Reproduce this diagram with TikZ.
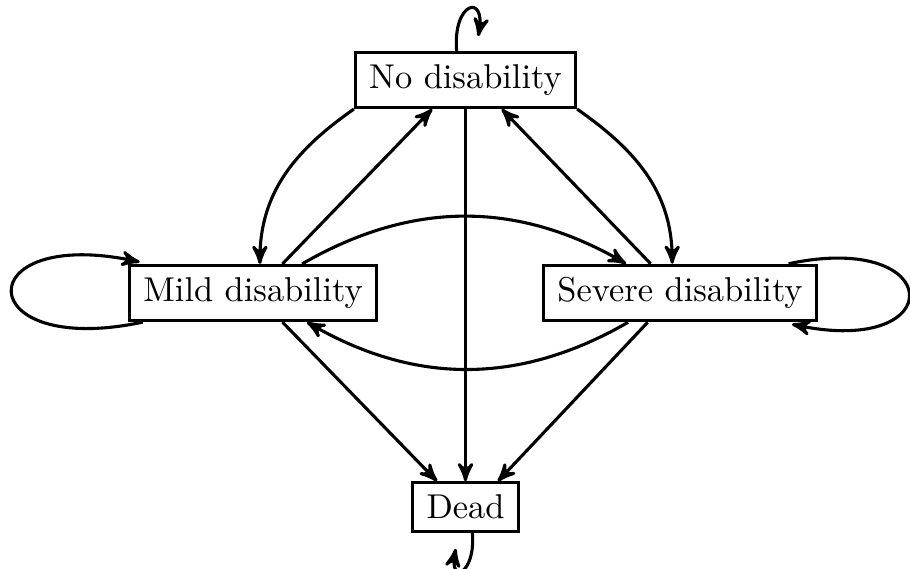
\documentclass[tikz,border=0pt]{standalone}
\usepackage{tikz}
\usetikzlibrary{arrows}

\begin{document}
\begin{tikzpicture}[>=stealth', line width=0.9pt,
        stbox/.style={draw, inner xsep=4pt, inner ysep=3.5pt}]
            \useasboundingbox (0,0) rectangle (9.286,5.796);

            \node[stbox] (no) at (4.75,4.98) {No disability};
            \node[stbox] (mild) at (2.582,2.806) {Mild disability};
            \node[stbox] (severe) at (6.939,2.806) {Severe disability};
            \node[stbox] (dead) at (4.75,0.622) {Dead};

            \coordinate (noloop) at ([xshift=0.13cm,yshift=0.15cm]no.north);
            \coordinate (deadloop) at ([xshift=-0.1cm,yshift=-0.163cm]dead.south);

            \draw[->] ([xshift=-0.09cm]no.north) .. controls +(95:0.5) and +(80:0.45) .. (noloop);
            \draw[->] ([xshift=0.07cm]dead.south) .. controls +(-85:0.42) and +(-100:0.38) .. (deadloop);
            \draw[->] ([xshift=0.15cm]mild.south west) .. controls +(192:1.8) and +(168:1.8) .. ([xshift=0.12cm,yshift=0.02cm]mild.north west);
            \draw[->] ([xshift=-0.3cm]severe.north east) .. controls +(12:1.65) and +(-12:1.65) .. ([xshift=-0.265cm,yshift=-0.02cm]severe.south east);

            \draw[->] (no.south west) .. controls +(215:0.7) and +(90:0.75) .. ([xshift=0.07cm]mild.north);
            \draw[->] (no.south east) .. controls +(-35:0.7) and +(90:0.75) .. ([xshift=-0.08cm]severe.north);
            \draw[->] ([xshift=0.5cm]mild.north) to[bend left=30] ([xshift=-0.55cm]severe.north);
            \draw[->] ([xshift=-0.53cm]severe.south) to[bend left=30] ([xshift=0.55cm]mild.south);

            \draw[->] ([xshift=0.3cm]mild.north) -- ([xshift=-0.34cm]no.south);
            \draw[->] ([xshift=-0.3cm]severe.north) -- ([xshift=0.37cm]no.south);
            \draw[->] (no.south) -- (dead.north);
            \draw[->] ([xshift=0.3cm]mild.south) -- ([xshift=-0.29cm]dead.north);
            \draw[->] ([xshift=-0.33cm]severe.south) -- ([xshift=0.33cm]dead.north);
        \end{tikzpicture}
\end{document}
